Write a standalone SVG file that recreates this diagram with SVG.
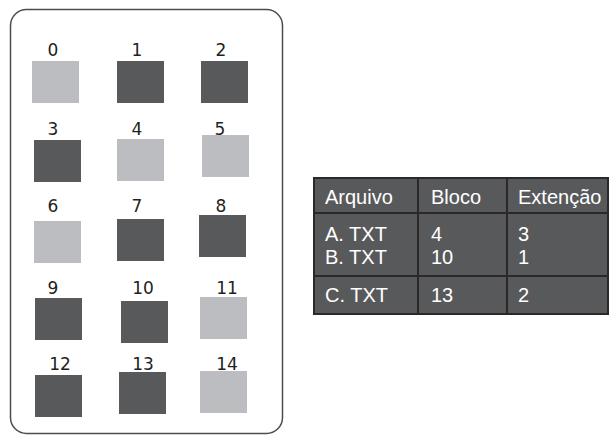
<svg xmlns="http://www.w3.org/2000/svg" width="611" height="435" viewBox="0 0 611 435">
<style>
.num{font-family:"DejaVu Sans",sans-serif;font-size:17px;fill:#231f20;text-anchor:middle}
.lt{fill:#bcbdc0}
.dk{fill:#58595b}
.tt{font-family:"Liberation Sans",Arial,sans-serif;font-size:20px;fill:#ffffff}
.gl{stroke:#2b2829;stroke-width:2;fill:none}
</style>
<rect x="10.5" y="9.5" width="272" height="424" rx="16" fill="none" stroke="#4d4d4f" stroke-width="1.5"/>
<g id="b0"><text class="num" x="53" y="56">0</text><rect class="lt" x="32" y="61" width="47" height="42"/></g>
<g id="b1"><text class="num" x="137" y="56">1</text><rect class="dk" x="117" y="61" width="47" height="42"/></g>
<g id="b2"><text class="num" x="221" y="56">2</text><rect class="dk" x="201" y="61" width="47" height="42"/></g>
<g id="b3"><text class="num" x="53" y="135">3</text><rect class="dk" x="34" y="140" width="47" height="42"/></g>
<g id="b4"><text class="num" x="137" y="135">4</text><rect class="lt" x="117" y="139" width="47" height="42"/></g>
<g id="b5"><text class="num" x="220" y="135">5</text><rect class="lt" x="202" y="135" width="47" height="42"/></g>
<g id="b6"><text class="num" x="53" y="212">6</text><rect class="lt" x="34" y="221" width="47" height="42"/></g>
<g id="b7"><text class="num" x="137" y="212">7</text><rect class="dk" x="117" y="219" width="47" height="42"/></g>
<g id="b8"><text class="num" x="221" y="212">8</text><rect class="dk" x="199" y="215" width="47" height="42"/></g>
<g id="b9"><text class="num" x="53" y="294">9</text><rect class="dk" x="35" y="298" width="47" height="42"/></g>
<g id="b10"><text class="num" x="143" y="294">10</text><rect class="dk" x="121" y="301" width="47" height="42"/></g>
<g id="b11"><text class="num" x="227" y="294">11</text><rect class="lt" x="200" y="297" width="47" height="42"/></g>
<g id="b12"><text class="num" x="60" y="370">12</text><rect class="dk" x="35" y="375" width="47" height="42"/></g>
<g id="b13"><text class="num" x="143" y="370">13</text><rect class="dk" x="119" y="372" width="47" height="42"/></g>
<g id="b14"><text class="num" x="227" y="370">14</text><rect class="lt" x="200" y="371" width="47" height="42"/></g>
<g id="table">
<rect x="313" y="177" width="295" height="137" fill="#58595b"/>
<rect class="gl" x="314" y="178" width="294" height="136"/>
<line class="gl" x1="313" y1="213" x2="608" y2="213"/>
<line class="gl" x1="313" y1="276" x2="608" y2="276"/>
<line class="gl" x1="418" y1="177" x2="418" y2="314"/>
<line class="gl" x1="507" y1="177" x2="507" y2="314"/>
<text class="tt" x="325" y="204">Arquivo</text>
<text class="tt" x="431" y="204">Bloco</text>
<text class="tt" x="518" y="204">Extenção</text>
<text class="tt" x="325" y="241">A. TXT</text>
<text class="tt" x="325" y="264">B. TXT</text>
<text class="tt" x="431" y="241">4</text>
<text class="tt" x="431" y="264">10</text>
<text class="tt" x="518" y="241">3</text>
<text class="tt" x="518" y="264">1</text>
<text class="tt" x="325" y="302">C. TXT</text>
<text class="tt" x="431" y="302">13</text>
<text class="tt" x="518" y="302">2</text>
</g>
<g id="connectors"/>
</svg>
